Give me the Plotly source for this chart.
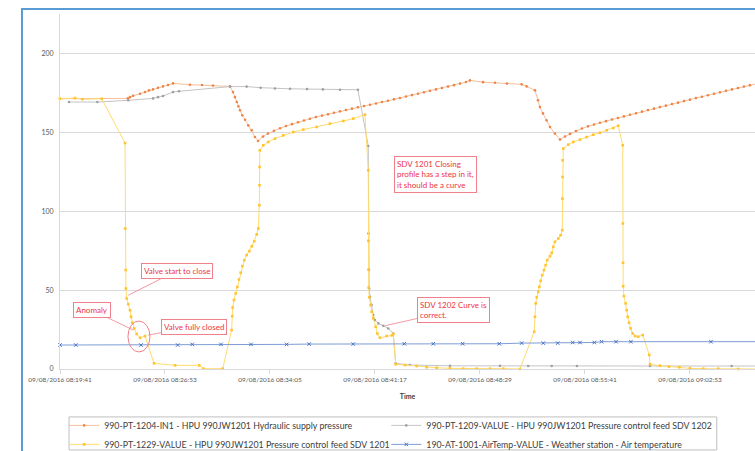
import pandas as pd
import plotly.graph_objects as go

# ---- data (elapsed minutes since 09/08/2016 08:19:41, value) ----
START = "2016-08-09 08:19:41"

hyd_min = [0.00, 4.66, 4.80, 5.01, 5.49, 5.83, 6.10, 6.38, 6.72, 7.06, 7.41, 7.75,
           8.91, 9.74, 10.49, 11.66, 11.86, 12.00, 12.12, 12.23, 12.34, 12.50, 12.69,
           12.91, 13.15, 13.37, 13.58, 13.92, 14.26, 14.67, 15.09, 15.50, 15.91, 16.32,
           16.73, 17.14, 17.55, 17.97, 18.38, 18.79, 19.20, 19.61, 20.02, 20.43, 20.85,
           21.26, 21.67, 22.08, 22.49, 22.90, 23.31, 23.73, 24.14, 24.55, 24.96, 25.37,
           25.78, 26.19, 26.61, 27.02, 27.43, 27.84, 28.11, 29.01, 29.83, 30.65, 31.66,
           32.00, 32.57, 32.78, 32.91, 33.12, 33.37, 33.60, 33.94, 34.29, 34.63, 34.97,
           35.38, 35.79, 36.21, 36.62, 37.03, 37.44, 37.85, 38.26, 38.67, 39.09, 39.50,
           39.91, 40.32, 40.73, 41.14, 41.55, 41.97, 42.38, 42.79, 43.20, 43.61, 44.02,
           44.43, 44.85, 45.26, 45.67, 46.08, 46.49, 46.90, 47.31, 47.73]
hyd_val = [171.3, 171.5, 172.3, 173.2, 174.5, 175.5, 176.6, 177.2, 178.3, 179.1, 180.0, 181.0,
           180.2, 180.0, 179.7, 179.1, 175.5, 172.3, 169.2, 166.5, 164.0, 160.8, 158.0,
           154.4, 151.3, 147.0, 144.5, 147.3, 149.2, 151.0, 152.6, 154.0, 155.2, 156.4,
           157.5, 158.6, 159.7, 160.6, 161.5, 162.4, 163.3, 164.2, 165.0, 165.9, 166.7,
           167.5, 168.3, 169.2, 170.0, 170.9, 171.8, 172.7, 173.6, 174.5, 175.4, 176.3,
           177.2, 178.1, 179.0, 179.9, 180.9, 181.9, 182.9, 181.8, 181.4, 180.9, 180.4,
           179.1, 176.6, 170.3, 166.0, 162.0, 157.6, 153.4, 149.2, 145.4, 147.4, 149.0,
           150.8, 152.4, 153.8, 155.0, 156.1, 157.1, 158.1, 159.1, 160.1, 161.1, 162.1,
           163.1, 164.1, 165.0, 166.0, 166.9, 167.9, 168.8, 169.8, 170.7, 171.7, 172.6,
           173.5, 174.5, 175.4, 176.3, 177.2, 178.1, 179.0, 179.9, 180.7]

sdv1202_min = [0.62, 2.56, 4.68, 6.38, 6.72, 7.06, 7.75, 8.16, 11.66, 12.80, 13.76, 14.74,
               15.77, 16.94, 18.03, 19.20, 20.43, 21.14, 21.15, 21.19, 21.20, 21.26, 21.37,
               21.48, 21.60, 21.83, 22.17, 22.51, 22.85, 23.02, 24.00, 26.74, 30.17, 32.11,
               33.72, 35.45, 40.46, 46.06, 47.73]
sdv1202_val = [169.2, 169.2, 170.3, 171.5, 172.3, 173.0, 175.5, 176.0, 179.0, 179.0, 178.3, 177.8,
               177.6, 177.4, 177.2, 177.0, 177.0, 141.3, 85.9, 62.7, 51.0, 45.8, 40.5,
               34.2, 31.0, 28.9, 27.4, 25.7, 22.5, 3.6, 2.5, 2.0, 2.0, 1.9,
               1.9, 1.9, 1.9, 1.9, 1.9]

sdv1201_min = [0.00, 1.03, 1.53, 2.86, 4.46, 4.47, 4.51, 4.52, 4.57, 4.68, 4.80, 4.87, 4.96,
               5.09, 5.26, 5.49, 5.83, 6.45, 7.89, 9.55, 9.83, 11.16, 11.77, 11.81, 11.84,
               11.93, 12.05, 12.16, 12.27, 12.39, 12.50, 12.64, 12.80, 12.98, 13.15, 13.32,
               13.49, 13.60, 13.67, 13.68, 13.69, 13.70, 13.94, 14.28, 14.74, 15.31, 16.00,
               16.68, 17.60, 18.51, 19.43, 20.11, 20.91, 21.14, 21.15, 21.16, 21.17, 21.21,
               21.30, 21.37, 21.48, 21.65, 21.76, 21.94, 22.40, 22.75, 22.85, 23.02, 23.66,
               24.46, 25.15, 25.83, 26.74, 27.65, 28.57, 29.49, 30.40, 31.54, 32.52, 32.57,
               32.62, 32.69, 32.80, 32.87, 32.96, 33.07, 33.19, 33.30, 33.41, 33.60, 33.72,
               33.83, 33.94, 34.17, 34.33, 34.44, 34.45, 34.46, 34.47, 34.51, 34.86, 35.20,
               35.66, 36.11, 36.57, 37.03, 37.49, 37.94, 38.28, 38.59, 38.60, 38.61, 38.62,
               38.67, 38.79, 38.86, 38.93, 39.02, 39.13, 39.27, 39.43, 39.65, 39.96, 40.41,
               40.46, 41.14, 41.76, 42.47, 43.20, 44.11, 45.14, 46.51, 47.73]
sdv1201_val = [171.3, 171.7, 171.0, 171.3, 143.2, 89.0, 62.7, 51.0, 44.7, 41.1, 37.3, 33.1, 29.3,
               25.7, 22.2, 19.8, 20.9, 3.6, 2.3, 2.3, 0.2, 0.2, 24.7, 33.5, 39.0,
               43.7, 47.9, 52.0, 56.7, 61.0, 65.2, 69.0, 72.2, 74.7, 77.8, 81.0,
               85.3, 89.0, 103.8, 116.5, 128.0, 138.6, 141.8, 143.9, 146.0, 148.1, 150.2,
               151.7, 153.4, 155.5, 157.2, 158.7, 161.2, 126.0, 81.2, 63.0, 51.7, 45.4,
               40.5, 36.3, 32.1, 26.8, 22.5, 19.8, 20.9, 21.3, 22.2, 3.0, 2.5,
               1.9, 1.1, 0.8, 0.4, 0.2, 0.2, 0.2, 0.2, 0.0, 23.6, 33.1,
               41.6, 45.4, 48.9, 52.1, 55.9, 59.5, 62.7, 65.8, 69.0, 71.5, 73.6,
               77.4, 80.6, 82.7, 84.8, 88.0, 108.0, 121.7, 132.3, 139.7, 142.2, 143.9,
               145.4, 147.0, 148.5, 149.7, 151.3, 152.7, 154.2, 141.8, 92.2, 67.3, 52.5,
               46.2, 41.6, 37.3, 33.1, 29.3, 25.7, 22.5, 20.9, 20.5, 21.5, 8.9,
               3.0, 2.1, 1.5, 1.1, 0.4, 0.2, 0.2, 0.0, 0.0]

air_min = [0.00, 1.08, 5.55, 8.07, 9.07, 11.04, 13.10, 15.54, 17.09, 20.11, 23.61, 25.60,
           27.61, 30.12, 31.66, 33.14, 34.13, 35.16, 35.66, 36.64, 37.14, 38.13, 39.15,
           44.64, 47.73]
air_val = [15.2, 15.2, 15.2, 15.2, 15.6, 15.6, 15.6, 15.6, 15.8, 15.8, 16.0, 16.0,
           16.0, 16.0, 16.4, 16.4, 16.4, 16.8, 16.8, 16.8, 17.3, 17.3, 17.3,
           17.3, 17.3]

series_names = [
    "990-PT-1204-IN1 - HPU 990JW1201 Hydraulic supply pressure",
    "990-PT-1209-VALUE - HPU 990JW1201 Pressure control feed SDV 1202",
    "990-PT-1229-VALUE - HPU 990JW1201 Pressure control feed SDV 1201",
    "190-AT-1001-AirTemp-VALUE - Weather station - Air temperature",
]
tick_minutes = [0.0, 7.2, 14.4, 21.6, 28.8, 36.0, 43.2]
y_ticks = [0, 50, 100, 150, 200]

base = pd.Timestamp(START)


def t(mins):
    return base + pd.to_timedelta(pd.Series(mins, dtype=float), unit="m")


def t1(m):
    return base + pd.Timedelta(minutes=m)


FONT = "Lato"
fig = go.Figure()

styles = [
    dict(line=dict(color="#F7BE9C", width=1), marker=dict(color="#EF8444", size=2.6, symbol="circle")),
    dict(line=dict(color="#C4C4C4", width=1), marker=dict(color="#A0A0A0", size=2.6, symbol="circle")),
    dict(line=dict(color="#FFDB70", width=1), marker=dict(color="#FFC42E", size=2.6, symbol="square")),
    dict(line=dict(color="#7E9CD6", width=1), marker=dict(color="#4472C4", size=3.5, symbol="x-thin",
                                                          line=dict(color="#4472C4", width=1))),
]
legend_of = ["legend", "legend2", "legend", "legend2"]
data = [(hyd_min, hyd_val), (sdv1202_min, sdv1202_val), (sdv1201_min, sdv1201_val), (air_min, air_val)]
for (xs, ys), name, st, lg in zip(data, series_names, styles, legend_of):
    fig.add_trace(go.Scatter(x=t(xs), y=ys, mode="lines+markers", name=name, legend=lg,
                             line=st["line"], marker=st["marker"], cliponaxis=False))

RED = "#EE3344"
BORDER = "#F2808A"


def note(text, tx, ty, px=None, py=None, align="left"):
    kw = dict(text=text, xref="x", yref="y", font=dict(family=FONT, size=8, color=RED),
              bordercolor=BORDER, borderwidth=1, borderpad=2, bgcolor="white", align=align)
    if px is None:
        fig.add_annotation(x=t1(tx), y=ty, showarrow=False, **kw)
    else:
        fig.add_annotation(x=t1(px), y=py, ax=t1(tx), ay=ty, axref="x", ayref="y",
                           showarrow=True, arrowhead=0, arrowwidth=0.8, arrowcolor=BORDER,
                           standoff=0, **kw)


note("Valve start to close", 8.00, 62.2, 4.68, 46.8)
note("Anomaly", 2.17, 37.3, 5.03, 24.7)
note("Valve fully closed", 9.22, 26.9, 6.05, 21.5)
note("SDV 1201 Closing<br>profile has a step in it,<br>it should be a curve", 25.75, 123.3)
note("SDV 1202 Curve is<br>correct.", 26.97, 37.2, 22.29, 27.4)

# ellipse around the anomaly
fig.add_shape(type="circle", xref="x", yref="y", x0=t1(4.66), x1=t1(6.17), y0=10.8, y1=30.4,
              line=dict(color=BORDER, width=1))

# chart frame (selected Excel chart border)
fig.add_shape(type="rect", xref="paper", yref="paper", x0=-0.0547, x1=1.2, y0=-0.4, y1=1.0141,
              line=dict(color="#5B9BD5", width=2), layer="below")
# legend frame
fig.add_shape(type="rect", xref="paper", yref="paper", x0=0.013, x1=0.945, y0=-0.228, y1=-0.135,
              line=dict(color="#BFBFBF", width=1), layer="below")

leg_common = dict(orientation="v", yanchor="top", y=-0.118, xanchor="left", borderwidth=0,
                  font=dict(size=8.8, color="#404040"), itemwidth=30, bgcolor="rgba(0,0,0,0)",
                  tracegroupgap=0)

fig.update_layout(
    width=755, height=451,
    margin=dict(l=60, r=0, t=14, b=82, autoexpand=False),
    paper_bgcolor="white", plot_bgcolor="white",
    font=dict(family=FONT, color="#595959"),
    showlegend=True,
    legend=dict(x=0.006, **leg_common),
    legend2=dict(x=0.4695, **leg_common),
    xaxis=dict(type="date", range=[t1(0), t1(47.66)], tickvals=t(tick_minutes),
               tickformat="%d/%m/%Y %H:%M:%S", tickfont=dict(size=6.5, color="#595959"),
               showgrid=False, showline=True, linecolor="#D9D9D9", linewidth=1,
               ticks="outside", ticklen=4, tickcolor="#D9D9D9", zeroline=False,
               title=dict(text="<b>Time</b>", font=dict(size=7, color="#404040"), standoff=12)),
    yaxis=dict(range=[0, 225], tickvals=y_ticks, tickfont=dict(size=7, color="#595959"),
               showgrid=True, gridcolor="#D9D9D9", gridwidth=1, showline=True,
               linecolor="#D9D9D9", zeroline=False, ticks="", ticklabelstandoff=4),
)

fig.write_html("out.html", config={"displayModeBar": False})

# remove the browser's default page margin so the figure sits at the window origin
with open("out.html", encoding="utf-8") as fh:
    html = fh.read()
html = html.replace("<head>", "<head><style>html,body{margin:0;padding:0;overflow:hidden;}</style>", 1)
with open("out.html", "w", encoding="utf-8") as fh:
    fh.write(html)
